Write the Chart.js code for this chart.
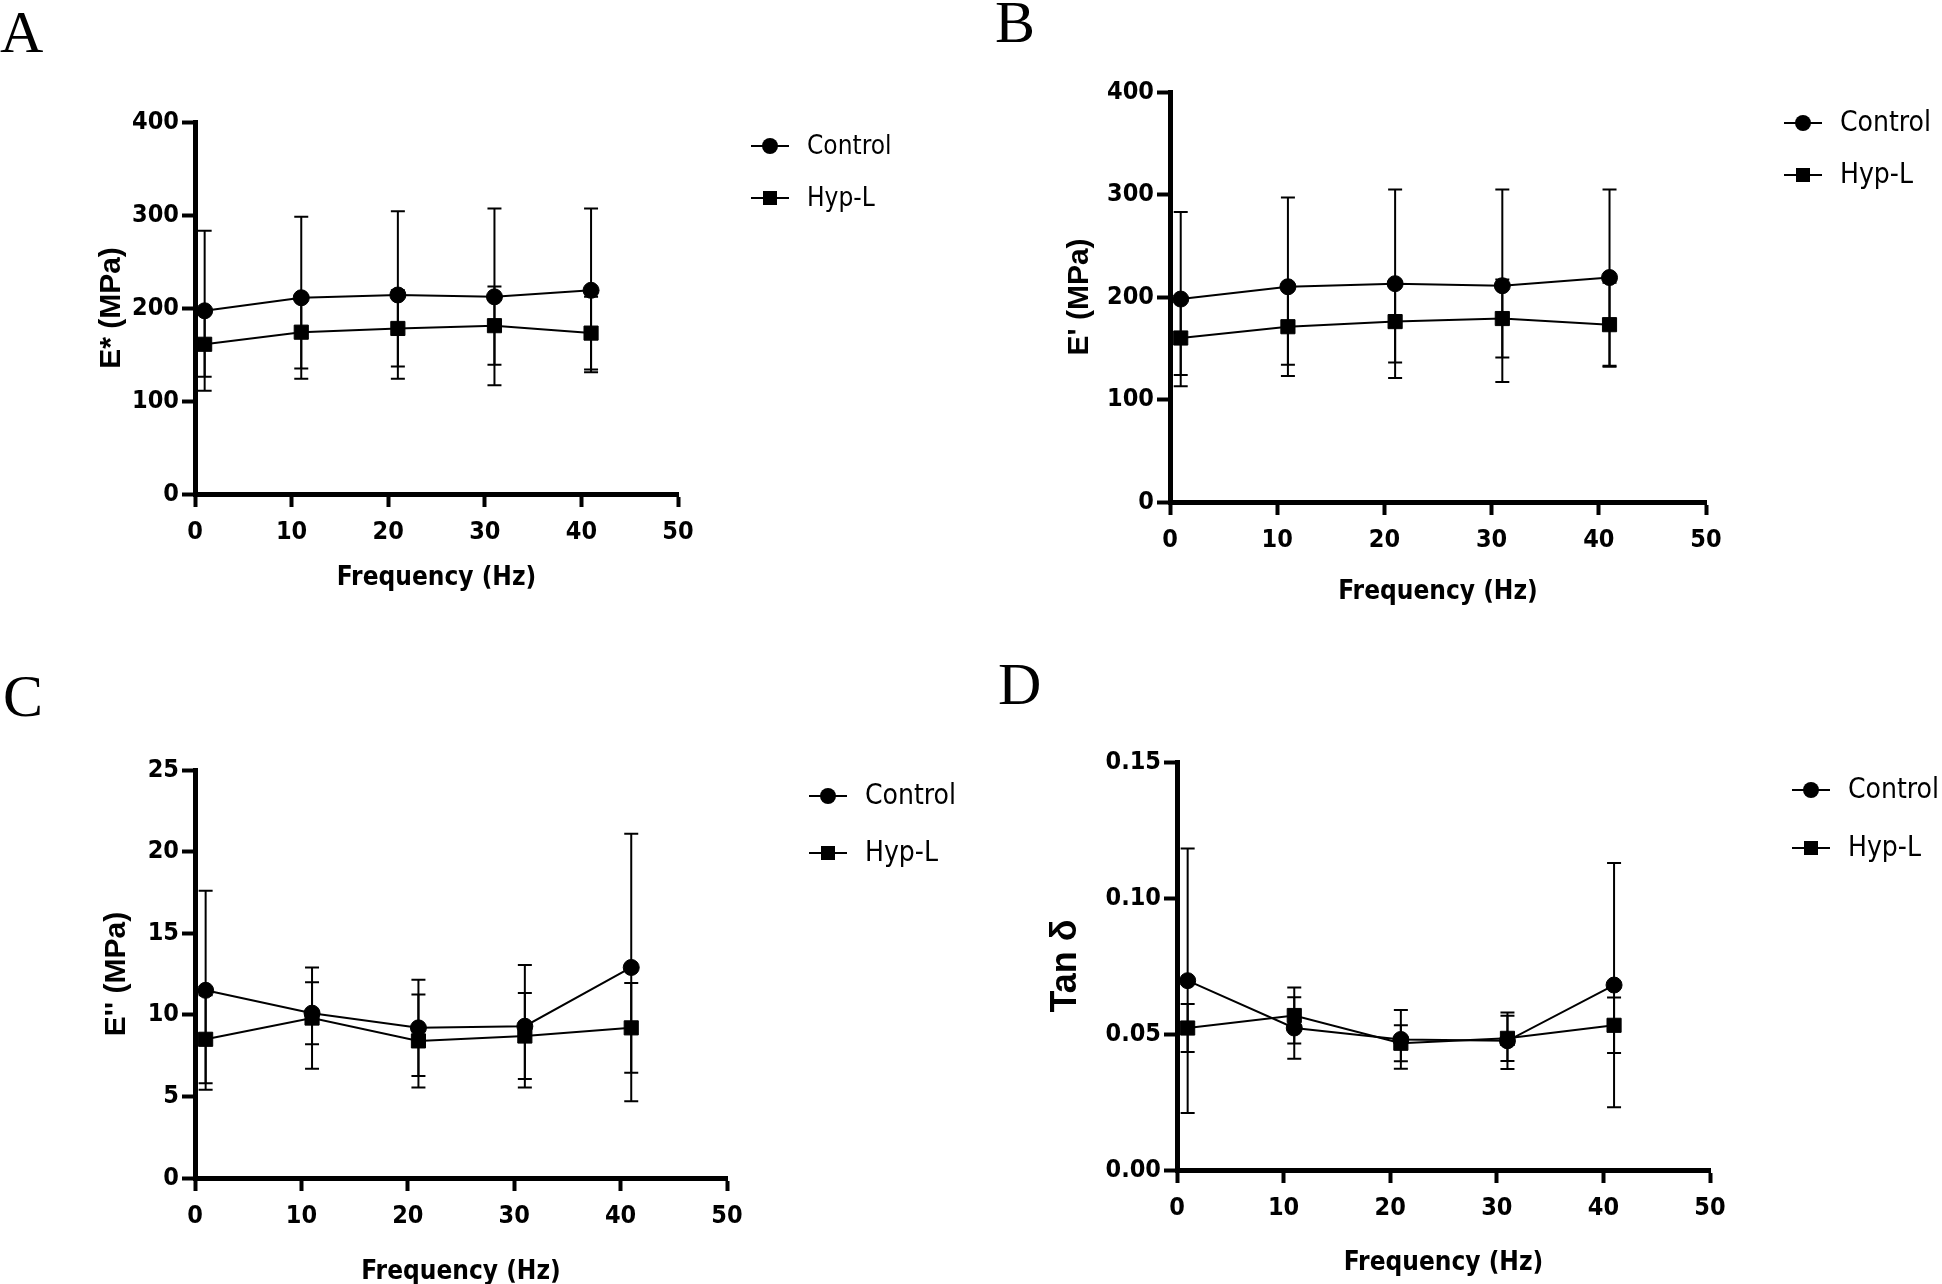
<!DOCTYPE html>
<html>
<head>
<meta charset="utf-8">
<title>Dynamic mechanical analysis</title>
<script src="https://cdn.jsdelivr.net/npm/chart.js@4.4.1/dist/chart.umd.min.js"></script>
<style>
  html, body { margin: 0; padding: 0; background: #fff; }
  body { width: 1942px; height: 1284px; position: relative; overflow: hidden; }
  canvas { position: absolute; }
  .letter {
    position: absolute;
    font-family: "Liberation Serif", "Times New Roman", serif;
    font-size: 60px;
    line-height: 1;
    color: #000;
  }
</style>
</head>
<body>
<div class="letter" style="left:0px;top:2px">A</div>
<div class="letter" style="left:995px;top:-8px">B</div>
<div class="letter" style="left:3px;top:666px">C</div>
<div class="letter" style="left:998px;top:654px">D</div>

<canvas id="chartA" width="971" height="642" style="left:0px;top:0px"></canvas>
<canvas id="chartB" width="971" height="642" style="left:971px;top:0px"></canvas>
<canvas id="chartC" width="971" height="642" style="left:0px;top:642px"></canvas>
<canvas id="chartD" width="971" height="642" style="left:971px;top:642px"></canvas>

<script>
// frequencies shared by all four panels
const freqHz = [1, 11, 21, 31, 41];
const seriesNames = ['Control', 'Hyp-L'];

// A - E* (MPa), mean and SD
const aControl = [197, 211, 214, 212, 219];
const aControlSd = [86, 87, 90, 95, 88];
const aHypL = [161, 174, 178, 181, 173];
const aHypLSd = [35, 39, 41, 42, 39];

// B - E' (MPa)
const bControl = [198, 210, 213, 211, 219];
const bControlSd = [85, 87, 92, 94, 86];
const bHypL = [160, 171, 176, 179, 173];
const bHypLSd = [36, 37, 40, 38, 41];

// C - E'' (MPa)
const cControl = [11.5, 10.1, 9.2, 9.3, 12.9];
const cControlSd = [6.1, 1.9, 2.95, 3.75, 8.2];
const cHypL = [8.5, 9.8, 8.4, 8.7, 9.2];
const cHypLSd = [2.7, 3.1, 2.85, 2.63, 2.75];

// D - Tan delta
const dControl = [0.0696, 0.0522, 0.0480, 0.0475, 0.0680];
const dControlSd = [0.0486, 0.0113, 0.0108, 0.0104, 0.0449];
const dHypL = [0.0522, 0.0568, 0.0466, 0.0484, 0.0532];
const dHypLSd = [0.0088, 0.0103, 0.0066, 0.0083, 0.0102];

const xTicks = { min: 0, max: 50, step: 10 };
const narrowFont = '"Liberation Sans Narrow", "DejaVu Sans Condensed", "Liberation Sans", sans-serif';
const titleFont = '"Liberation Sans", Arial, sans-serif';

// vertical SD bars with caps, drawn under the markers
const errorBars = {
    id: 'errorBars',
    beforeDatasetsDraw(chart) {
        const ctx = chart.ctx;
        const yScale = chart.scales.y;
        ctx.save();
        ctx.strokeStyle = '#000';
        ctx.lineWidth = 2;
        chart.data.datasets.forEach((ds, i) => {
            const meta = chart.getDatasetMeta(i);
            meta.data.forEach((pt, j) => {
                const m = ds.data[j].y;
                const s = ds.sd[j];
                const top = yScale.getPixelForValue(m + s);
                const bot = yScale.getPixelForValue(m - s);
                ctx.beginPath();
                ctx.moveTo(pt.x, top);
                ctx.lineTo(pt.x, bot);
                ctx.moveTo(pt.x - 7, top);
                ctx.lineTo(pt.x + 7, top);
                ctx.moveTo(pt.x - 7, bot);
                ctx.lineTo(pt.x + 7, bot);
                ctx.stroke();
            });
        });
        ctx.restore();
    }
};

// GraphPad style legend to the right of the plot
const sideLegend = {
    id: 'sideLegend',
    afterDraw(chart, args, opts) {
        const ctx = chart.ctx;
        ctx.save();
        chart.data.datasets.forEach((ds, i) => {
            const cx = opts.x;
            const cy = opts.y + i * opts.gap;
            ctx.strokeStyle = '#000';
            ctx.fillStyle = '#000';
            ctx.lineWidth = 2;
            ctx.beginPath();
            ctx.moveTo(cx - 19, cy);
            ctx.lineTo(cx + 19, cy);
            ctx.stroke();
            if (ds.pointStyle === 'rect') {
                ctx.fillRect(cx - 7, cy - 7, 14, 14);
            } else {
                ctx.beginPath();
                ctx.arc(cx, cy, 8, 0, Math.PI * 2);
                ctx.fill();
            }
            ctx.font = opts.size + 'px ' + narrowFont;
            ctx.textBaseline = 'middle';
            ctx.textAlign = 'left';
            ctx.fillText(ds.label, cx + 37, cy + 1);
        });
        ctx.restore();
    }
};

function toPoints(values) {
    return freqHz.map((f, i) => ({ x: f, y: values[i] }));
}

function makePanel(id, box, yAxis, series, legend) {
    const canvas = document.getElementById(id);
    const W = canvas.width, H = canvas.height;
    const yTitleLh = yAxis.titleSize * 1.2;
    const xTitleLh = 26 * 1.2;
    const xHeight = box.xTitleY + xTitleLh / 2 - box.bottom;

    const datasets = series.map((s, i) => ({
        label: seriesNames[i],
        data: toPoints(s.mean),
        sd: s.sd,
        showLine: true,
        borderColor: '#000',
        borderWidth: 2,
        backgroundColor: '#000',
        pointStyle: i === 0 ? 'circle' : 'rect',
        pointRadius: i === 0 ? 8 : 10,
        pointBackgroundColor: '#000',
        pointBorderColor: '#000',
        pointBorderWidth: 1,
        tension: 0,
        clip: false
    }));

    return new Chart(canvas, {
        type: 'scatter',
        data: { datasets: datasets },
        options: {
            responsive: false,
            animation: false,
            events: [],
            layout: {
                padding: {
                    left: 0,
                    top: box.top,
                    right: W - box.right,
                    bottom: H - box.bottom - xHeight
                }
            },
            plugins: {
                legend: { display: false },
                tooltip: { enabled: false },
                sideLegend: legend
            },
            scales: {
                x: {
                    type: 'linear',
                    min: xTicks.min,
                    max: xTicks.max,
                    afterFit: (s) => { s.height = xHeight; },
                    border: { display: true, color: '#000', width: 5 },
                    grid: { drawOnChartArea: false, drawTicks: true, tickLength: 13, tickWidth: 4, tickColor: '#000' },
                    ticks: {
                        stepSize: xTicks.step,
                        color: '#000',
                        padding: 10,
                        maxRotation: 0,
                        font: { family: narrowFont, size: 25, weight: 'bold' }
                    },
                    title: {
                        display: true,
                        text: 'Frequency (Hz)',
                        color: '#000',
                        padding: { top: 0, bottom: 0 },
                        font: { family: narrowFont, size: 26, weight: 'bold' }
                    }
                },
                y: {
                    type: 'linear',
                    min: 0,
                    max: yAxis.max,
                    afterFit: (s) => { s.width = box.left; },
                    border: { display: true, color: '#000', width: 5 },
                    grid: { drawOnChartArea: false, drawTicks: true, tickLength: 13, tickWidth: 4, tickColor: '#000' },
                    ticks: {
                        stepSize: yAxis.step,
                        color: '#000',
                        padding: 3,
                        font: { family: narrowFont, size: 25, weight: 'bold' },
                        callback: (v) => v.toFixed(yAxis.decimals)
                    },
                    title: {
                        display: true,
                        text: yAxis.title,
                        color: '#000',
                        padding: { top: box.yTitleX - yTitleLh / 2, bottom: 0 },
                        font: { family: titleFont, size: yAxis.titleSize, weight: 'bold' }
                    }
                }
            }
        },
        plugins: [errorBars, sideLegend]
    });
}

makePanel('chartA',
    { left: 195, top: 122, right: 678, bottom: 494, yTitleX: 112, xTitleY: 578 },
    { max: 400, step: 100, decimals: 0, title: 'E* (MPa)', titleSize: 30 },
    [{ mean: aControl, sd: aControlSd }, { mean: aHypL, sd: aHypLSd }],
    { x: 770, y: 146, gap: 52, size: 26 });

makePanel('chartB',
    { left: 199, top: 92, right: 735, bottom: 502, yTitleX: 109, xTitleY: 592 },
    { max: 400, step: 100, decimals: 0, title: "E' (MPa)", titleSize: 30 },
    [{ mean: bControl, sd: bControlSd }, { mean: bHypL, sd: bHypLSd }],
    { x: 832, y: 123, gap: 52, size: 28 });

makePanel('chartC',
    { left: 195, top: 128, right: 727, bottom: 536, yTitleX: 117, xTitleY: 630 },
    { max: 25, step: 5, decimals: 0, title: "E'' (MPa)", titleSize: 30 },
    [{ mean: cControl, sd: cControlSd }, { mean: cHypL, sd: cHypLSd }],
    { x: 828, y: 154, gap: 57, size: 28 });

makePanel('chartD',
    { left: 206, top: 120, right: 739, bottom: 528, yTitleX: 95, xTitleY: 621 },
    { max: 0.15, step: 0.05, decimals: 2, title: 'Tan δ', titleSize: 36 },
    [{ mean: dControl, sd: dControlSd }, { mean: dHypL, sd: dHypLSd }],
    { x: 840, y: 148, gap: 58, size: 28 });
</script>
</body>
</html>
